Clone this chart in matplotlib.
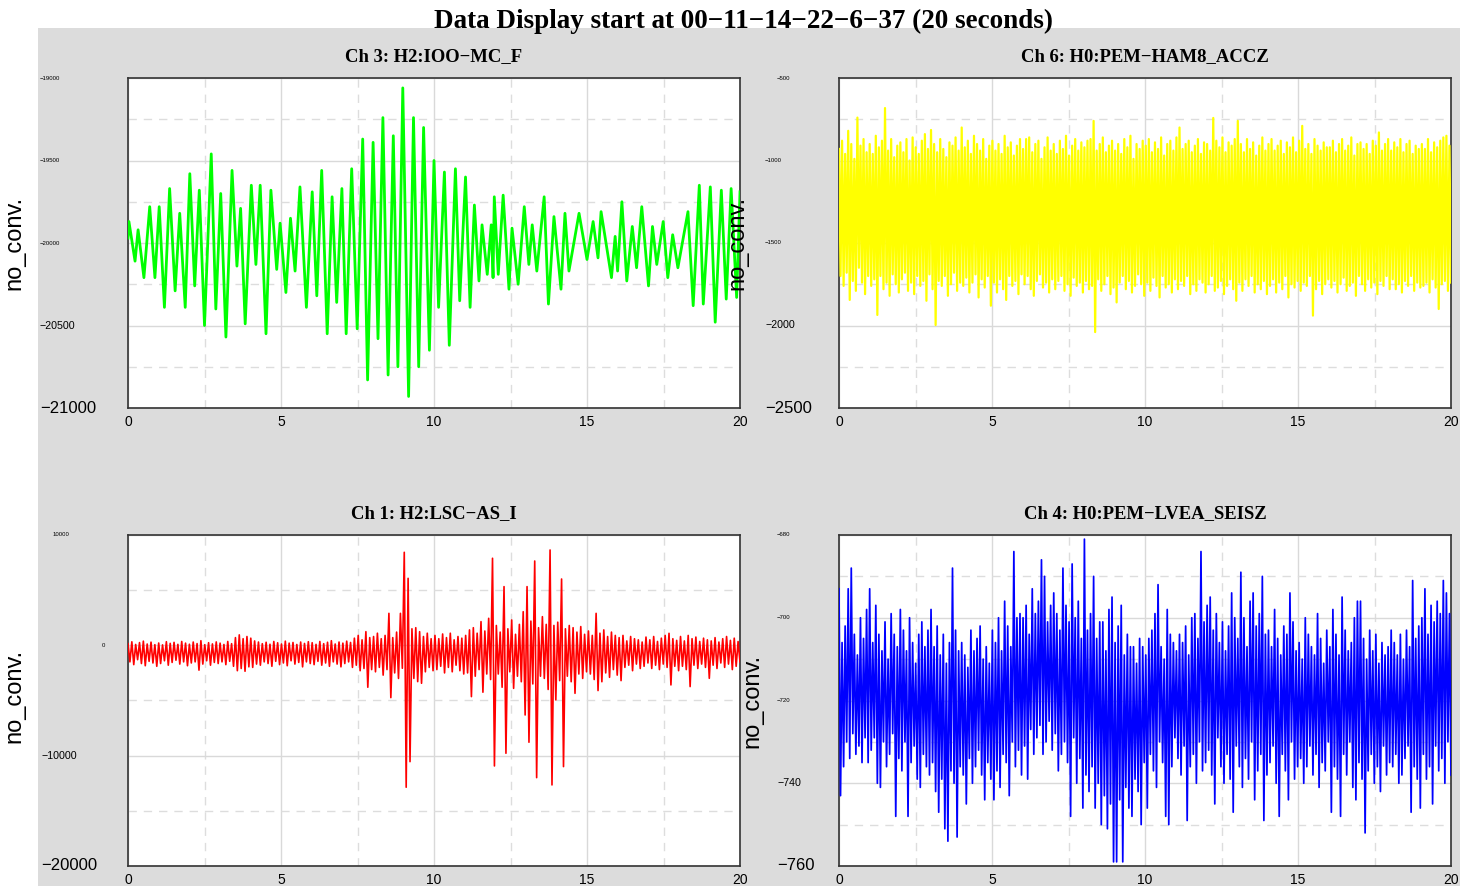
import numpy as np
import matplotlib
matplotlib.use("Agg")
import matplotlib.pyplot as plt
from matplotlib.patches import Rectangle

MINUS = "\u2212"

# Ch 3 (green): turning points of the trace, time [s] / value
green_t = [0.00, 0.03, 0.23, 0.33, 0.52, 0.71, 0.88, 1.02, 1.19, 1.36, 1.54, 1.69, 1.87, 2.02,
           2.18, 2.33, 2.50, 2.72, 2.87, 3.03, 3.20, 3.40, 3.56, 3.68, 3.83, 4.03, 4.18, 4.32,
           4.51, 4.67, 4.86, 4.97, 5.16, 5.31, 5.46, 5.62, 5.83, 6.02, 6.17, 6.33, 6.51, 6.67,
           6.82, 6.99, 7.13, 7.31, 7.49, 7.67, 7.83, 8.01, 8.17, 8.33, 8.50, 8.67, 8.82, 8.98,
           9.17, 9.33, 9.50, 9.66, 9.85, 10.00, 10.15, 10.34, 10.50, 10.70, 10.84, 11.03, 11.18,
           11.32, 11.47, 11.57, 11.74, 11.87, 11.93, 11.97, 12.10, 12.26, 12.45, 12.55, 12.75,
           12.95, 13.10, 13.21, 13.36, 13.60, 13.74, 13.92, 14.15, 14.28, 14.41, 14.74, 15.00,
           15.20, 15.36, 15.46, 15.80, 15.92, 16.00, 16.14, 16.30, 16.48, 16.62, 16.79, 17.01,
           17.14, 17.28, 17.49, 17.64, 17.80, 17.97, 18.30, 18.47, 18.67, 18.80, 19.03, 19.19,
           19.39, 19.55, 19.71, 19.89, 20.00]
green_v = [-19970, -19870, -20110, -19920, -20210, -19780, -20210, -19780, -20390, -19670,
           -20290, -19820, -20390, -19580, -20260, -19680, -20500, -19460, -20400, -19700,
           -20570, -19560, -20140, -19790, -20490, -19650, -20130, -19650, -20550, -19680,
           -20160, -19880, -20300, -19850, -20170, -19660, -20390, -19690, -20320, -19560,
           -20550, -19720, -20360, -19670, -20550, -19550, -20520, -19370, -20830, -19390,
           -20580, -19240, -20800, -19350, -20750, -19060, -20930, -19240, -20750, -19300,
           -20650, -19500, -20390, -19570, -20620, -19550, -20350, -19600, -20390, -19770,
           -20230, -19890, -20190, -19890, -20210, -19720, -20190, -19710, -20280, -19910,
           -20250, -19780, -20130, -19890, -20170, -19720, -20370, -19840, -20280, -19820,
           -20170, -19820, -20100, -19870, -20090, -19810, -20210, -19960, -20170, -19750,
           -20230, -19900, -20150, -19780, -20260, -19900, -20130, -19870, -20210, -19950,
           -20150, -19810, -20380, -19650, -20370, -19660, -20480, -19680, -20340, -19670,
           -20330, -19690]

# Ch 6 (yellow): upper / lower excursion per 0.1 s
yellow_hi = [
    -930, -880, -960, -820, -900, -990, -740, -910, -870, -950,
    -900, -960, -850, -920, -880, -682, -940, -870, -980, -910,
    -890, -950, -870, -1000, -860, -920, -960, -880, -840, -930,
    -815, -900, -950, -870, -930, -980, -890, -910, -860, -940,
    -800, -920, -880, -960, -850, -900, -940, -870, -990, -910,
    -880, -940, -900, -960, -850, -920, -890, -970, -910, -870,
    -930, -870, -860, -950, -900, -880, -990, -920, -860, -940,
    -900, -960, -880, -930, -850, -970, -910, -870, -940, -890,
    -920, -880, -870, -760, -940, -900, -860, -950, -910, -880,
    -940, -900, -960, -870, -920, -850, -990, -900, -930, -880,
    -910, -870, -950, -890, -930, -860, -970, -900, -880, -940,
    -860, -800, -930, -900, -880, -950, -910, -870, -960, -890,
    -900, -940, -742, -880, -920, -860, -950, -890, -910, -870,
    -760, -900, -950, -870, -930, -890, -970, -910, -860, -940,
    -900, -870, -940, -910, -880, -960, -890, -920, -860, -950,
    -880, -790, -930, -900, -960, -870, -910, -940, -890, -920,
    -920, -880, -950, -900, -870, -940, -910, -860, -970, -900,
    -890, -930, -900, -960, -880, -910, -830, -940, -900, -870,
    -940, -890, -920, -870, -950, -900, -880, -960, -910, -930,
    -900, -930, -870, -950, -890, -920, -880, -860, -850, -910]
yellow_lo = [
    -1700, -1760, -1680, -1845, -1730, -1790, -1650, -1740, -1810, -1700,
    -1760, -1720, -1936, -1700, -1780, -1740, -1820, -1690, -1750, -1800,
    -1720, -1680, -1790, -1740, -1810, -1700, -1760, -1730, -1850, -1690,
    -1780, -1997, -1730, -1760, -1700, -1820, -1750, -1680, -1790, -1740,
    -1760, -1710, -1800, -1740, -1690, -1830, -1720, -1770, -1700, -1880,
    -1740, -1800, -1720, -1780, -1845, -1700, -1760, -1730, -1810, -1690,
    -1750, -1700, -1780, -1820, -1730, -1690, -1770, -1740, -1800, -1720,
    -1780, -1730, -1700, -1790, -1750, -1820, -1710, -1760, -1740, -1800,
    -1730, -1780, -1760, -2040, -1720, -1790, -1750, -1700, -1810, -1770,
    -1860, -1740, -1700, -1780, -1730, -1800, -1760, -1690, -1750, -1820,
    -1740, -1790, -1710, -1760, -1830, -1700, -1770, -1750, -1800, -1720,
    -1780, -1730, -1760, -1700, -1810, -1750, -1790, -1720, -1740, -1800,
    -1750, -1700, -1790, -1770, -1730, -1810, -1760, -1720, -1780, -1850,
    -1740, -1790, -1720, -1760, -1700, -1800, -1750, -1780, -1730, -1810,
    -1760, -1720, -1800, -1740, -1780, -1700, -1830, -1750, -1770, -1730,
    -1790, -1740, -1760, -1700, -1940, -1780, -1730, -1810, -1750, -1720,
    -1770, -1730, -1800, -1750, -1710, -1790, -1760, -1740, -1820, -1700,
    -1750, -1790, -1720, -1770, -1740, -1810, -1730, -1760, -1700, -1780,
    -1720, -1780, -1750, -1800, -1730, -1760, -1700, -1790, -1740, -1770,
    -1760, -1740, -1800, -1720, -1770, -1900, -1750, -1730, -1790, -1740]

# Ch 1 (red): upper / lower excursion per 0.125 s
red_hi = [
    150, 320, 80, 250, 380, 120, 290, 60,
    210, 40, 330, 180, 270, 90, 350, 200,
    100, 300, 160, 420, 60, 240, 130, 310,
    200, 80, 350, 150, 700, 950, 600, 800,
    650, 400, 300, 150, 280, 100, 350, 230,
    120, 380, 200, 260, 80, 300, 170, 330,
    240, 90, 350, 150, 280, 420, 120, 300,
    200, 380, 260, 650, 900, 500, 1240, 700,
    800, 1100, 600, 900, 2900, 700, 1200, 2900,
    8430, 6070, 1500, 1600, 1240, 800, 1100, 600,
    900, 600, 1030, 700, 1100, 500, 800, 650,
    900, 1400, 1600, 1100, 2150, 1300, 2450, 7890,
    1800, 1200, 5320, 1500, 2300, 1000, 1900, 3050,
    5320, 2200, 7640, 1600, 2600, 1900, 8640, 1800,
    2100, 6010, 1500, 1800, 1600, 1200, 1700, 1000,
    1300, 900, 2900, 1100, 1400, 800, 1200, 900,
    700, 900, 400, 800, 600, 500, 300, 750,
    500, 800, 350, 650, 900, 1090, 600, 450,
    800, 400, 900, 600, 750, 350, 650, 500,
    400, 700, 300, 600, 800, 450, 650, 350]
red_lo = [
    -1500, -1750, -1300, -1650, -1850, -1450, -1600, -1900,
    -1650, -1400, -1800, -1550, -1350, -1700, -1500, -1850,
    -1600, -1500, -2250, -1700, -1400, -1800, -1550, -1650,
    -1500, -1750, -1450, -1900, -2300, -2100, -2350, -1950,
    -2000, -1700, -1800, -1500, -1650, -1900, -1450, -1750,
    -1600, -1850, -1400, -1700, -1550, -1950, -1500, -1650,
    -1750, -1450, -1800, -1600, -1900, -1500, -1700, -1950,
    -1650, -1500, -2000, -1800, -2300, -2100, -3800, -2200,
    -2400, -2000, -2700, -2200, -4740, -2500, -3000, -2080,
    -12860, -10540, -3000, -3290, -3440, -2400, -2000, -2300,
    -2200, -1900, -2500, -2000, -2400, -1800, -2300, -2600,
    -2500, -4650, -2800, -2200, -4250, -2600, -3100, -10930,
    -2600, -3800, -9780, -2400, -3900, -2800, -3300, -6310,
    -8780, -3500, -11990, -2800, -3000, -4000, -12650, -4950,
    -3200, -10990, -2800, -3300, -4350, -2600, -3000, -2400,
    -2600, -3100, -4100, -3300, -2500, -2900, -2200, -2700,
    -3200, -2000, -1800, -2300, -1700, -2100, -1900, -1600,
    -2100, -1800, -2200, -1700, -2000, -3590, -1900, -2300,
    -1900, -2200, -3740, -1800, -2100, -1700, -2000, -2990,
    -1800, -2100, -1600, -2000, -1700, -2200, -1900, -1500]

# Ch 4 (blue): upper / lower excursion per 0.1 s
blue_hi = [
    -693, -706, -702, -693, -688, -704, -709, -700, -705, -698,
    -693, -706, -697, -704, -708, -701, -710, -699, -704, -707,
    -698, -703, -708, -700, -706, -711, -704, -701, -707, -703,
    -698, -707, -702, -709, -704, -711, -706, -688, -703, -708,
    -706, -709, -712, -703, -708, -705, -702, -710, -707, -711,
    -703, -706, -700, -708, -696, -702, -707, -684, -700, -699,
    -700, -697, -704, -693, -699, -696, -686, -690, -701, -697,
    -694, -699, -703, -688, -697, -701, -687, -700, -696, -705,
    -681, -703, -699, -690, -705, -701, -701, -708, -698, -695,
    -706, -702, -697, -709, -704, -707, -707, -711, -705, -707,
    -709, -705, -703, -699, -692, -707, -710, -698, -704, -706,
    -708, -704, -706, -702, -709, -700, -699, -705, -684, -701,
    -697, -695, -703, -699, -706, -701, -708, -702, -694, -700,
    -705, -689, -700, -707, -696, -694, -702, -699, -690, -704,
    -703, -707, -698, -705, -709, -702, -704, -694, -701, -708,
    -706, -710, -700, -704, -707, -709, -699, -705, -711, -703,
    -707, -698, -704, -709, -695, -703, -708, -706, -700, -696,
    -696, -705, -710, -703, -708, -704, -711, -706, -709, -707,
    -703, -706, -709, -704, -710, -703, -707, -691, -705, -702,
    -700, -693, -704, -697, -701, -696, -699, -691, -694, -699]
blue_lo = [
    -743, -736, -730, -734, -728, -733, -731, -735, -729, -735,
    -732, -729, -740, -741, -730, -736, -733, -728, -748, -734,
    -737, -730, -748, -735, -731, -739, -741, -733, -736, -738,
    -735, -742, -747, -739, -751, -754, -737, -740, -753, -736,
    -738, -745, -734, -740, -736, -732, -738, -744, -735, -739,
    -744, -737, -741, -733, -735, -743, -730, -736, -732, -738,
    -731, -739, -727, -733, -729, -726, -733, -730, -725, -732,
    -728, -737, -733, -730, -735, -748, -729, -740, -734, -746,
    -738, -742, -736, -746, -740, -750, -743, -751, -745, -759,
    -759, -744, -759, -741, -746, -748, -739, -742, -750, -735,
    -746, -733, -737, -741, -730, -735, -748, -750, -736, -729,
    -734, -738, -731, -749, -736, -733, -740, -730, -737, -735,
    -732, -738, -745, -729, -736, -740, -733, -739, -747, -731,
    -736, -741, -734, -739, -730, -744, -737, -733, -749, -738,
    -735, -731, -740, -748, -733, -737, -744, -730, -739, -736,
    -734, -740, -736, -731, -738, -733, -741, -735, -737, -730,
    -747, -736, -739, -748, -733, -738, -730, -741, -744, -735,
    -739, -752, -737, -733, -740, -736, -742, -731, -738, -735,
    -736, -733, -740, -738, -734, -731, -747, -736, -739, -746,
    -733, -739, -736, -745, -731, -737, -734, -740, -730, -738]

titles = ["Ch 3: H2:IOO" + MINUS + "MC_F", "Ch 6: H0:PEM" + MINUS + "HAM8_ACCZ",
          "Ch 1: H2:LSC" + MINUS + "AS_I", "Ch 4: H0:PEM" + MINUS + "LVEA_SEISZ"]
yticks_tl = [-19000, -19500, -20000, -20500, -21000]
yticks_tr = [-500, -1000, -1500, -2000, -2500]
yticks_bl = [10000, 0, -10000, -20000]
yticks_br = [-680, -700, -720, -740, -760]
xticks = [0, 5, 10, 15, 20]


def zigzag(hi, lo):
    v = np.empty(2 * len(hi))
    v[0::2] = hi
    v[1::2] = lo
    return np.linspace(0, 20, len(v)), v


W, H = 1475, 886
AXW = 612.0
fig = plt.figure(figsize=(W / 100, H / 100), dpi=100)
fig.patches.append(Rectangle((38 / W, 0), 1422 / W, 858 / H, transform=fig.transFigure,
                             facecolor="#dcdcdc", edgecolor="none", zorder=-10))

fig.text(743 / W, 1 - 28 / H, "Data Display start at 00" + MINUS + "11" + MINUS + "14" + MINUS
         + "22" + MINUS + "6" + MINUS + "37 (20 seconds)", ha="center", va="baseline",
         fontsize=19.5, fontweight="bold", family="Liberation Serif")

# left px, top px, height px of every panel
boxes = [(128, 78, 330), (839, 78, 330), (128, 535, 331), (839, 535, 331)]
axes = []
for (l, t, h) in boxes:
    axes.append(fig.add_axes([l / W, 1 - (t + h) / H, AXW / W, h / H]))

gt, gv = green_t, green_v
yt, yv = zigzag(yellow_hi, yellow_lo)
rt, rv = zigzag(red_hi, red_lo)
bt, bv = zigzag(blue_hi, blue_lo)

series = [(gt, gv, "#00ff00", 2.0), (yt, yv, "#ffff00", 1.6),
          (rt, rv, "#ff0000", 1.2), (bt, bv, "#0000ff", 1.25)]
ticksets = [yticks_tl, yticks_tr, yticks_bl, yticks_br]
label_x = [-88, -74, -87, -62]        # left edge of y tick labels, px from the frame
special_x = {(1, -500): -62, (2, 10000): -75, (2, 0): -26}
ylab_x = [-103, -91, -103, -76]       # right edge of "no_conv.", px from the frame
ylab_y = [0.5, 0.5, 0.513, 0.5]

for i, ax in enumerate(axes):
    x, y, c, lw = series[i]
    ax.plot(x, y, color=c, lw=lw, zorder=3)
    yt_ = ticksets[i]
    ax.set_xlim(0, 20)
    ax.set_ylim(min(yt_), max(yt_))
    ax.set_xticks(xticks)
    ax.set_xticks([2.5, 7.5, 12.5, 17.5], minor=True)
    ax.set_yticks(yt_)
    step = yt_[0] - yt_[1]
    ax.set_yticks([v - step / 2 for v in yt_[:-1]], minor=True)
    ax.grid(which="major", color="#d9d9d9", lw=1.0, ls="-")
    ax.grid(which="minor", color="#dddddd", lw=1.0, ls=(0, (6, 5)))
    ax.set_axisbelow(True)
    ax.tick_params(which="both", length=0)
    ax.tick_params(axis="y", labelleft=False)
    ax.tick_params(axis="x", labelsize=10, pad=5)
    for lab in ax.get_xticklabels():
        lab.set_family("Liberation Sans")
    for s in ax.spines.values():
        s.set_color("#333333")
        s.set_linewidth(1.2)
    ax.set_title(titles[i], fontsize=13.4, fontweight="bold", family="Liberation Serif", pad=12)
    n = len(yt_)
    sizes = [4.3] * (n - 2) + [7.7, 12]
    for v, fs in zip(yt_, sizes):
        xo = special_x.get((i, v), label_x[i])
        ax.text(xo / AXW, v, str(v).replace("-", MINUS), transform=ax.get_yaxis_transform(),
                ha="left", va="center", fontsize=fs, family="Liberation Sans", clip_on=False)
    ax.set_ylabel("no_conv.", fontsize=17, family="Liberation Sans")
    ax.yaxis.set_label_coords(ylab_x[i] / AXW, ylab_y[i])

fig.savefig("out.png", dpi=100)
